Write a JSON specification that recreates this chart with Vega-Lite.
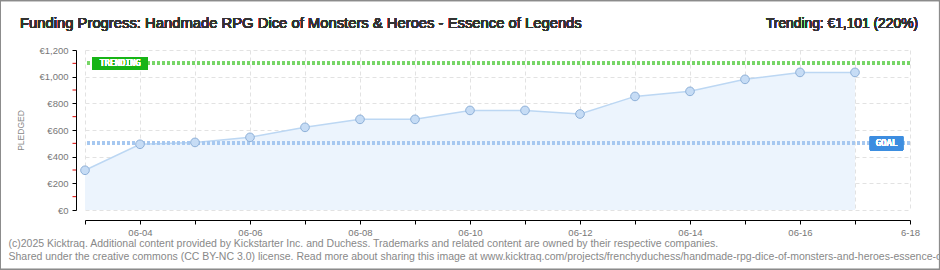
{
  "$schema": "https://vega.github.io/schema/vega-lite/v6.json",
  "width": 825,
  "height": 160,
  "autosize": {"type": "none"},
  "padding": {"left": 85, "top": 50, "right": 30, "bottom": 60},
  "background": "white",
  "config": {"view": {"stroke": null}, "font": "Liberation Sans"},
  "data": {
    "values": [
      {"date": "2025-06-03", "pledged": 298},
      {"date": "2025-06-04", "pledged": 493},
      {"date": "2025-06-05", "pledged": 507},
      {"date": "2025-06-06", "pledged": 545},
      {"date": "2025-06-07", "pledged": 620},
      {"date": "2025-06-08", "pledged": 680},
      {"date": "2025-06-09", "pledged": 680},
      {"date": "2025-06-10", "pledged": 747},
      {"date": "2025-06-11", "pledged": 747},
      {"date": "2025-06-12", "pledged": 720},
      {"date": "2025-06-13", "pledged": 852},
      {"date": "2025-06-14", "pledged": 890},
      {"date": "2025-06-15", "pledged": 980},
      {"date": "2025-06-16", "pledged": 1032},
      {"date": "2025-06-17", "pledged": 1032}
    ]
  },
  "layer": [
    {
      "mark": {"type": "area", "color": "#ecf4fd", "opacity": 1},
      "encoding": {
        "x": {
          "field": "date",
          "type": "temporal",
          "scale": {
            "type": "utc",
            "domain": [
              {"year": 2025, "month": 6, "date": 3, "utc": true},
              {"year": 2025, "month": 6, "date": 18, "utc": true}
            ]
          },
          "axis": {
            "tickCount": {"interval": "day", "step": 1},
            "labelExpr": "utcdate(datum.value) % 2 == 0 ? (utcdate(datum.value) == 18 ? '6-18' : utcFormat(datum.value, '%m-%d')) : ''",
            "offset": 10,
            "domainColor": "#000000",
            "tickColor": "#000000",
            "tickSize": 4,
            "grid": true,
            "gridColor": "#e2e2e2",
            "gridDash": [4, 3],
            "labelColor": "#777777",
            "labelFontSize": 9.5,
            "labelPadding": 3,
            "labelFlush": false,
            "labelOverlap": false,
            "title": [
              "(c)2025 Kicktraq. Additional content provided by Kickstarter Inc. and Duchess. Trademarks and related content are owned by their respective companies.",
              "Shared under the creative commons (CC BY-NC 3.0) license. Read more about sharing this image at www.kicktraq.com/projects/frenchyduchess/handmade-rpg-dice-of-monsters-and-heroes-essence-of-legends/"
            ],
            "titleAnchor": "start",
            "titleAlign": "left",
            "titleBaseline": "alphabetic",
            "titleX": -77,
            "titleY": 26,
            "titleFontSize": 10.5,
            "titleFontWeight": "normal",
            "titleColor": "#888888",
            "titleLineHeight": 13
          }
        },
        "y": {
          "field": "pledged",
          "type": "quantitative",
          "scale": {"domain": [0, 1200], "nice": false},
          "axis": {
            "values": [0, 200, 400, 600, 800, 1000, 1200],
            "labelExpr": "'€' + format(datum.value, ',')",
            "labelOverlap": false,
            "offset": 9,
            "domainColor": "#000000",
            "tickColor": "#000000",
            "tickSize": 4,
            "grid": true,
            "gridColor": "#e2e2e2",
            "gridDash": [4, 3],
            "labelColor": "#777777",
            "labelFontSize": 9.5,
            "labelPadding": 4,
            "title": "PLEDGED",
            "titleFontSize": 8.5,
            "titleFontWeight": "normal",
            "titleColor": "#888888",
            "titleX": -51,
            "titleY": 80
          }
        }
      }
    },
    {
      "data": {"values": [{"minor": 100}, {"minor": 300}, {"minor": 500}, {"minor": 700}, {"minor": 900}, {"minor": 1100}]},
      "mark": {"type": "rule", "color": "#dd0000", "strokeWidth": 1, "clip": false},
      "encoding": {
        "x": {"datum": {"year": 2025, "month": 6, "date": 2, "hours": 18, "minutes": 33, "utc": true}, "type": "temporal", "axis": null},
        "x2": {"datum": {"year": 2025, "month": 6, "date": 2, "hours": 20, "minutes": 4, "utc": true}},
        "y": {"field": "minor", "type": "quantitative", "axis": null}
      }
    },
    {
      "mark": {"type": "line", "color": "#bcd7f3", "strokeWidth": 1.5},
      "encoding": {
        "x": {"field": "date", "type": "temporal", "axis": null},
        "y": {"field": "pledged", "type": "quantitative", "axis": null}
      }
    },
    {
      "mark": {"type": "rule", "color": "#77d567", "strokeWidth": 3, "strokeDash": [3, 2]},
      "encoding": {"y": {"datum": 1101, "type": "quantitative", "axis": null}}
    },
    {
      "mark": {"type": "rule", "color": "#a6c8f0", "strokeWidth": 3, "strokeDash": [3, 2]},
      "encoding": {"y": {"datum": 500, "type": "quantitative", "axis": null}}
    },
    {
      "mark": {"type": "point", "filled": true, "fill": "#c6dcf5", "stroke": "#8eb0d8", "strokeWidth": 1, "size": 75, "opacity": 1},
      "encoding": {
        "x": {"field": "date", "type": "temporal", "axis": null},
        "y": {"field": "pledged", "type": "quantitative", "axis": null}
      }
    },
    {
      "mark": {"type": "rect", "color": "#17b417", "cornerRadius": 1},
      "encoding": {
        "x": {"datum": {"year": 2025, "month": 6, "date": 3, "hours": 3, "minutes": 20, "utc": true}, "type": "temporal", "axis": null},
        "x2": {"datum": {"year": 2025, "month": 6, "date": 4, "hours": 3, "minutes": 20, "utc": true}},
        "y": {"datum": 1050, "type": "quantitative", "axis": null},
        "y2": {"datum": 1148}
      }
    },
    {
      "mark": {"type": "text", "text": "TRENDING", "color": "white", "font": "DejaVu Sans Mono", "fontSize": 8.5, "align": "center", "baseline": "middle"},
      "encoding": {
        "x": {"datum": {"year": 2025, "month": 6, "date": 3, "hours": 15, "minutes": 20, "utc": true}, "type": "temporal", "axis": null},
        "y": {"datum": 1100, "type": "quantitative", "axis": null}
      }
    },
    {
      "mark": {"type": "rect", "color": "#3d8de0", "cornerRadius": 1},
      "encoding": {
        "x": {"datum": {"year": 2025, "month": 6, "date": 17, "hours": 6, "minutes": 30, "utc": true}, "type": "temporal", "axis": null},
        "x2": {"datum": {"year": 2025, "month": 6, "date": 17, "hours": 21, "minutes": 0, "utc": true}},
        "y": {"datum": 447, "type": "quantitative", "axis": null},
        "y2": {"datum": 555}
      }
    },
    {
      "mark": {"type": "text", "text": "GOAL", "color": "white", "font": "DejaVu Sans Mono", "fontSize": 9, "align": "center", "baseline": "middle"},
      "encoding": {
        "x": {"datum": {"year": 2025, "month": 6, "date": 17, "hours": 13, "minutes": 45, "utc": true}, "type": "temporal", "axis": null},
        "y": {"datum": 500, "type": "quantitative", "axis": null}
      }
    },
    {
      "mark": {"type": "text", "text": "Funding Progress: Handmade RPG Dice of Monsters & Heroes - Essence of Legends", "color": "#333333", "fontSize": 14.8, "fontWeight": "normal", "align": "left", "baseline": "alphabetic", "dx": -65, "dy": -22},
      "encoding": {
        "x": {"datum": {"year": 2025, "month": 6, "date": 3, "utc": true}, "type": "temporal", "axis": null},
        "y": {"datum": 1200, "type": "quantitative", "axis": null}
      }
    },
    {
      "mark": {"type": "text", "text": "Trending:  €1,101 (220%)", "color": "#333333", "fontSize": 13.8, "fontWeight": "normal", "align": "right", "baseline": "alphabetic", "dx": 8, "dy": -22},
      "encoding": {
        "x": {"datum": {"year": 2025, "month": 6, "date": 18, "utc": true}, "type": "temporal", "axis": null},
        "y": {"datum": 1200, "type": "quantitative", "axis": null}
      }
    },
    {
      "mark": {"type": "rect", "fill": null, "fillOpacity": 0, "stroke": "#8c8c8c", "strokeWidth": 1, "clip": false},
      "encoding": {
        "x": {"datum": {"year": 2025, "month": 6, "date": 1, "hours": 11, "minutes": 7, "utc": true}, "type": "temporal", "axis": null},
        "x2": {"datum": {"year": 2025, "month": 6, "date": 18, "hours": 12, "minutes": 52, "utc": true}},
        "y": {"datum": 1571, "type": "quantitative", "axis": null},
        "y2": {"datum": -446}
      }
    }
  ],
  "resolve": {"axis": {"x": "independent", "y": "independent"}}
}
